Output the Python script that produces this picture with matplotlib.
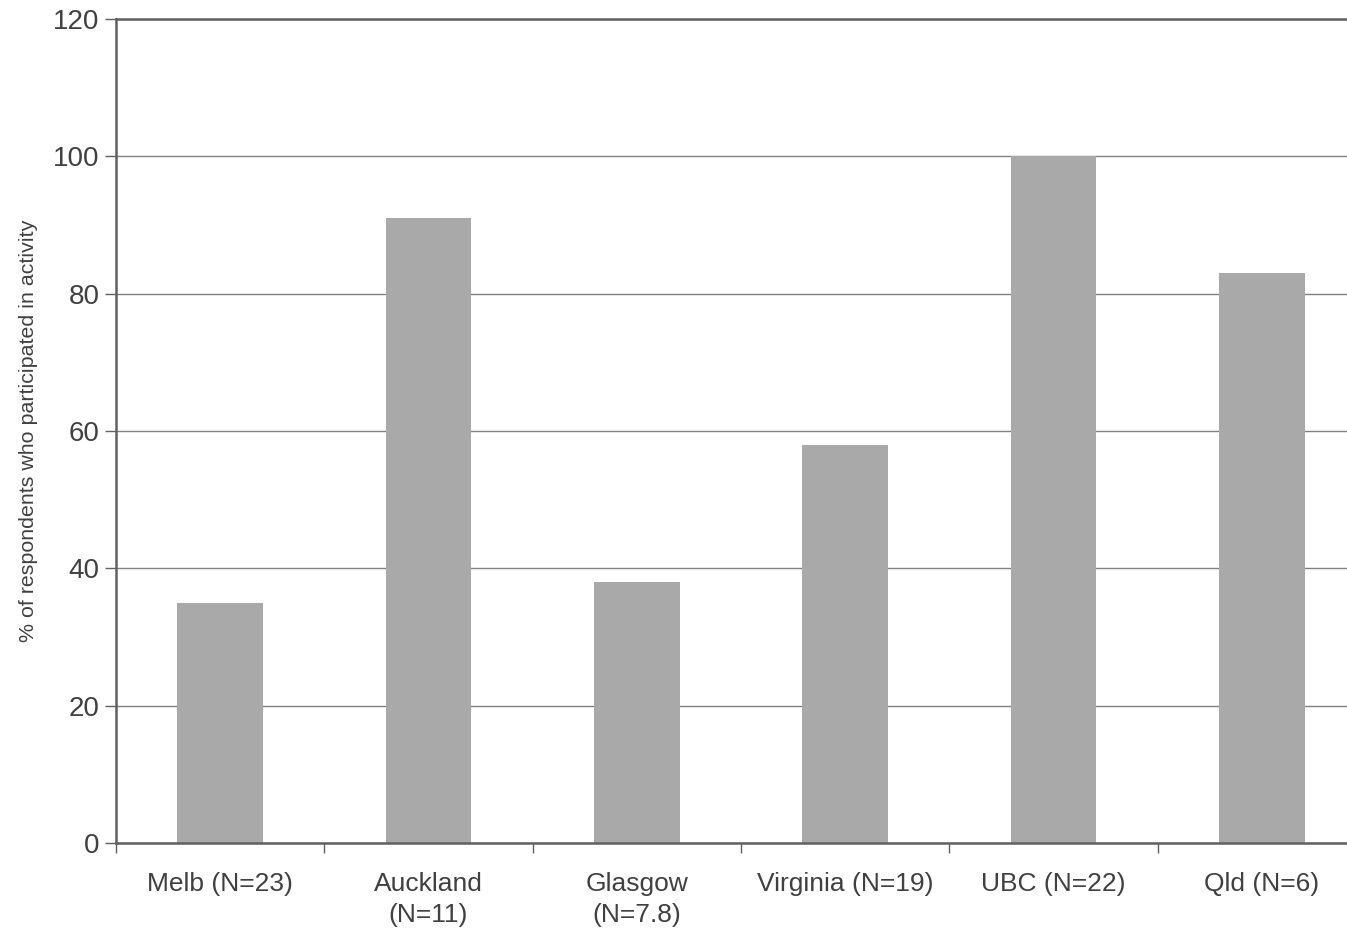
import matplotlib.pyplot as plt

sites = ['Melb (N=23)', 'Auckland\n(N=11)', 'Glasgow\n(N=7.8)',
         'Virginia (N=19)', 'UBC (N=22)', 'Qld (N=6)']
pct = [35, 91, 38, 58, 100, 83]

plt.rcParams['font.family'] = ['Liberation Sans', 'DejaVu Sans']
text_col = '#404040'

fig = plt.figure(figsize=(13.47, 9.36), dpi=100)
# axes run past the right edge, as in the cropped original
ax = fig.add_axes([116 / 1347, (936 - 843) / 936, 1250 / 1347, 824 / 936])

x = range(len(sites))
ax.bar(x, pct, width=0.41, color='#a9a9a9', zorder=2)

ax.set_xlim(-0.5, len(sites) - 0.5)
ax.set_ylim(0, 120)
ax.set_yticks(range(0, 121, 20))
ax.yaxis.grid(True, color='#808080', linewidth=1, zorder=0)

ax.set_xticks([i - 0.5 for i in range(len(sites) + 1)])
ax.set_xticklabels([])
ax.set_xticks(list(x), minor=True)
ax.set_xticklabels(sites, minor=True, fontsize=19, color=text_col, linespacing=1.35)
ax.tick_params(axis='x', which='minor', length=0, pad=21)
ax.tick_params(axis='x', which='major', length=7, width=1, color='#606060', direction='out')
ax.tick_params(axis='y', length=8, width=1, color='#606060', labelsize=20,
               labelcolor=text_col, pad=4)

for s in ['top', 'right']:
    ax.spines[s].set_visible(False)
for s in ['left', 'bottom']:
    ax.spines[s].set_color('#606060')
    ax.spines[s].set_linewidth(1.8)
ax.axhline(120, color='#606060', linewidth=1.8, zorder=3, clip_on=False)

ax.set_ylabel('% of respondents who participated in activity', fontsize=15.4,
              color=text_col)
ax.yaxis.set_label_coords(-0.062, 0.5)

fig.savefig('out.png', dpi=100)
